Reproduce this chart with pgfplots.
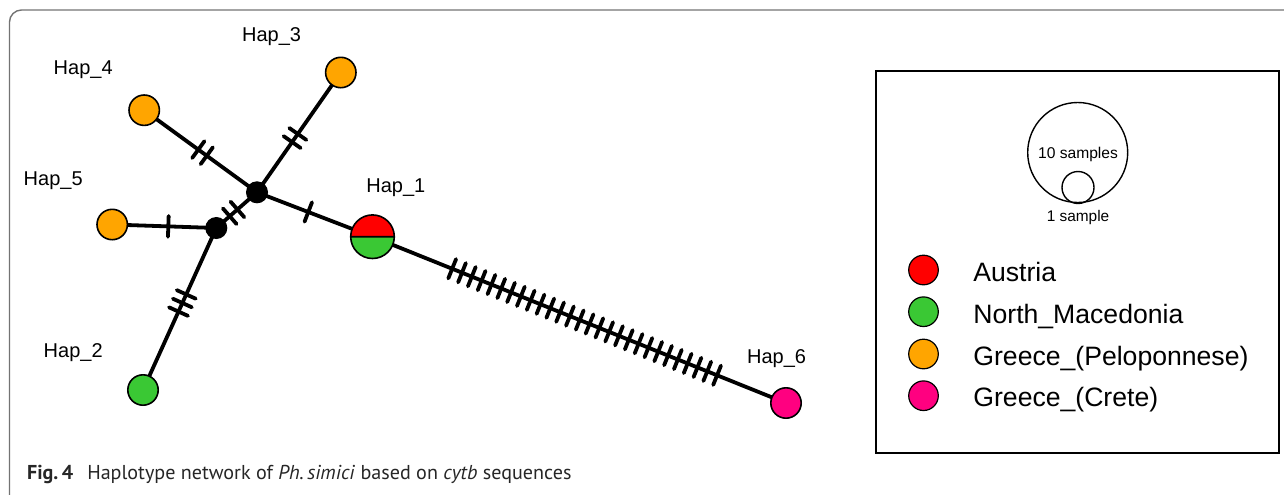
\documentclass[border=0pt]{standalone}
\usepackage{pgfplots}
\pgfplotsset{compat=1.18}
\usetikzlibrary{decorations.markings}
\usepackage{fontspec}
\setmainfont{Liberation Sans}
\newfontfamily\capfont{PT Sans}
\definecolor{hapred}{RGB}{255,0,0}
\definecolor{hapgreen}{RGB}{58,200,52}
\definecolor{haporange}{RGB}{255,165,0}
\definecolor{happink}{RGB}{255,0,128}
\definecolor{framegray}{RGB}{115,115,115}

\pgfdeclareplotmark{splitRG}{%
  \pgfpathmoveto{\pgfqpoint{\pgfplotmarksize}{0pt}}%
  \pgfpatharc{0}{180}{\pgfplotmarksize}%
  \pgfpathclose
  \pgfsetfillcolor{hapred}%
  \pgfusepath{fill}%
  \pgfpathmoveto{\pgfqpoint{\pgfplotmarksize}{0pt}}%
  \pgfpatharc{0}{-180}{\pgfplotmarksize}%
  \pgfpathclose
  \pgfsetfillcolor{hapgreen}%
  \pgfusepath{fill}%
  \pgfpathcircle{\pgfpointorigin}{\pgfplotmarksize}%
  \pgfpathmoveto{\pgfqpoint{-\pgfplotmarksize}{0pt}}%
  \pgfpathlineto{\pgfqpoint{\pgfplotmarksize}{0pt}}%
  \pgfusepath{stroke}%
}

\tikzset{
  hatches/.style n args={3}{postaction={decorate},
    decoration={markings, mark=between positions #1 and #2 step #3 with
      {\draw[line width=1.9pt, line cap=round] (0,-5.2pt) -- (0,5.2pt);}}},
  onehatch/.style={postaction={decorate},
    decoration={markings, mark=at position #1 with
      {\draw[line width=1.9pt, line cap=round] (0,-5.2pt) -- (0,5.2pt);}}},
  edge/.style={black, line width=1.9pt, no markers},
  hapnode/.style={only marks, mark=*, mark size=7.6pt,
    mark options={fill=#1, draw=black, line width=0.8pt}},
  haplabel/.style={anchor=base west, inner sep=0pt, font=\fontsize{10}{12}\selectfont},
  legtext/.style={anchor=base west, inner sep=0pt, font=\fontsize{13.3}{16}\selectfont},
}

\begin{document}
\begin{tikzpicture}
\begin{axis}[name=ax, at={(0,0)}, anchor=south west, scale only axis,
  width=642pt, height=247pt, xmin=0, xmax=1284, ymin=0, ymax=494,
  y dir=reverse, hide axis, clip=false]

% outer frame
\draw[framegray, line width=0.7pt, rounded corners=6pt]
  (axis cs:9.5,10) rectangle (axis cs:1320,512);

% edges with mutation hatches
\addplot[edge, hatches={0.48}{0.557}{0.075}] coordinates {(144.2,110.2) (257,192.3)};
\addplot[edge, hatches={0.42}{0.489}{0.068}] coordinates {(257,192.3) (340.8,72.5)};
\addplot[edge, onehatch=0.444] coordinates {(257,192.3) (372.5,236.7)};
\addplot[edge, hatches={0.33}{0.521}{0.19}] coordinates {(216.3,228) (257,192.3)};
\addplot[edge, onehatch=0.539] coordinates {(112.2,224.5) (216.3,228)};
\addplot[edge, hatches={0.41}{0.517}{0.053}] coordinates {(216.3,228) (143,390)};
\addplot[edge, hatches={0.1927}{0.836}{0.02372}] coordinates {(372.5,236.7) (786,403)};

% haplotype nodes
\addplot[hapnode=haporange] coordinates {(340.8,72.5) (144.2,110.2) (112.2,224.5)};
\addplot[hapnode=hapgreen] coordinates {(143,390)};
\addplot[hapnode=happink] coordinates {(786,403)};
\addplot[only marks, mark=*, mark size=5.2pt, mark options={fill=black, draw=black, line width=0.6pt}]
  coordinates {(257,192.3) (216.3,228)};
\addplot[only marks, mark=splitRG, mark size=10.9pt, mark options={draw=black, line width=0.8pt}]
  coordinates {(372.5,236.7)};

% haplotype labels
\node[haplabel] at (axis cs:241.7,41.5) {Hap\_3};
\node[haplabel] at (axis cs:53.3,74) {Hap\_4};
\node[haplabel] at (axis cs:23.3,185.7) {Hap\_5};
\node[haplabel] at (axis cs:366,192.7) {Hap\_1};
\node[haplabel] at (axis cs:43.3,357.3) {Hap\_2};
\node[haplabel] at (axis cs:746.7,363.3) {Hap\_6};

% legend box
\draw[black, line width=0.8pt] (axis cs:876,71) rectangle (axis cs:1279,453);
\addplot[only marks, mark=o, mark size=25pt, mark options={draw=black, line width=0.7pt}]
  coordinates {(1077.7,152.5)};
\addplot[only marks, mark=o, mark size=8pt, mark options={draw=black, line width=0.7pt}]
  coordinates {(1078,187.5)};
\node[anchor=base, inner sep=0pt, font=\fontsize{7.8}{9}\selectfont] at (axis cs:1078,158.3) {10 samples};
\node[anchor=base, inner sep=0pt, font=\fontsize{7.7}{9}\selectfont] at (axis cs:1078,221.7) {1 sample};

\addplot[only marks, mark=*, mark size=7.4pt, mark options={fill=hapred, draw=black, line width=0.6pt}]
  coordinates {(923.5,270)};
\addplot[only marks, mark=*, mark size=7.4pt, mark options={fill=hapgreen, draw=black, line width=0.6pt}]
  coordinates {(923.5,311.7)};
\addplot[only marks, mark=*, mark size=7.4pt, mark options={fill=haporange, draw=black, line width=0.6pt}]
  coordinates {(923.5,354)};
\addplot[only marks, mark=*, mark size=7.4pt, mark options={fill=happink, draw=black, line width=0.6pt}]
  coordinates {(923.5,395.7)};
\node[legtext] at (axis cs:973,281.7) {Austria};
\node[legtext] at (axis cs:973,323.3) {North\_Macedonia};
\node[legtext] at (axis cs:973,365) {Greece\_(Peloponnese)};
\node[legtext] at (axis cs:973,406.7) {Greece\_(Crete)};

% caption
\node[anchor=base west, inner sep=0pt, text=black!85, font=\capfont\fontsize{10.05}{12}\selectfont]
  at (axis cs:26.7,479.3)
  {\textbf{Fig.\,4}\hspace{0.7em}Haplotype network of \textit{Ph.\,simici} based on \textit{cytb} sequences};
\end{axis}
\pgfresetboundingbox
\path[use as bounding box] (ax.south west) rectangle (ax.north east);
\end{tikzpicture}
\end{document}
